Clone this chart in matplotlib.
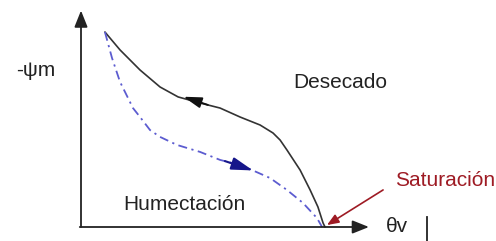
import matplotlib
matplotlib.use("Agg")
import matplotlib.pyplot as plt
from matplotlib.lines import Line2D

plt.rcParams['font.family'] = ['Liberation Sans', 'DejaVu Sans']

# drying curve (theta, -psi), normalised: saturation at theta=1
theta_dry = [0.098, 0.160, 0.242, 0.324, 0.398, 0.488, 0.570, 0.652, 0.734,
             0.787, 0.816, 0.844, 0.898, 0.939, 0.971, 0.992, 1.000]
psi_dry = [1.000, 0.908, 0.805, 0.718, 0.667, 0.636, 0.610, 0.564, 0.523,
           0.482, 0.446, 0.395, 0.292, 0.190, 0.103, 0.021, 0.000]

# wetting curve
theta_wet = [0.098, 0.127, 0.160, 0.213, 0.242, 0.283, 0.324, 0.393, 0.488,
             0.570, 0.652, 0.701, 0.775, 0.844, 0.910, 0.967, 0.988]
psi_wet = [1.000, 0.867, 0.744, 0.610, 0.564, 0.497, 0.462, 0.421, 0.385,
           0.344, 0.318, 0.292, 0.251, 0.190, 0.123, 0.046, 0.000]

# direction arrows (tail, head)
dry_arrow = [(0.520, 0.626), (0.420, 0.668)]
wet_arrow = [(0.590, 0.338), (0.705, 0.290)]

fig = plt.figure(figsize=(4.96, 2.41), dpi=100)
ax = fig.add_axes([0, 0, 1, 1])
ax.set_xlim(-81 / 244, 415 / 244)
ax.set_ylim(-14 / 195, 227 / 195)
ax.axis('off')

# axes with arrows
ax.annotate('', xy=(0, 1.110), xytext=(0, 0),
            arrowprops=dict(arrowstyle='-|>,head_length=1.0,head_width=0.4',
                            color='#222222', lw=1.3, shrinkA=0, shrinkB=0))
ax.annotate('', xy=(1.180, 0), xytext=(-0.005, 0),
            arrowprops=dict(arrowstyle='-|>,head_length=1.0,head_width=0.4',
                            color='#222222', lw=1.3, shrinkA=0, shrinkB=0))

ax.plot(theta_dry, psi_dry, color='#333333', lw=1.2, solid_capstyle='round',
        solid_joinstyle='round')
ax.plot(theta_wet, psi_wet, color='#5c5cd0', lw=1.3,
        linestyle=(0, (5, 2.5, 1.2, 2.5)))

ax.annotate('', xy=dry_arrow[1], xytext=dry_arrow[0],
            arrowprops=dict(arrowstyle='-|>,head_length=1.1,head_width=0.33',
                            color='#111111', lw=1.3, shrinkA=0, shrinkB=0))
ax.annotate('', xy=wet_arrow[1], xytext=wet_arrow[0],
            arrowprops=dict(arrowstyle='-|>,head_length=1.3,head_width=0.38',
                            color='#16168a', lw=1.5, shrinkA=0, shrinkB=0))

# saturation pointer
ax.annotate('', xy=(1.008, 0.010), xytext=(1.238, 0.190),
            arrowprops=dict(arrowstyle='-|>,head_length=0.7,head_width=0.28',
                            color='#9e1b24', lw=1.2, shrinkA=0, shrinkB=0))

fs = 15
fig.text(36 / 496, 1 - 70 / 241, '-ψm', fontsize=fs, ha='center', va='center',
         color='#222222')
fig.text(340 / 496, 1 - 82 / 241, 'Desecado', fontsize=fs, ha='center',
         va='center', color='#222222')
fig.text(184 / 496, 1 - 205 / 241, 'Humectación', fontsize=fs, ha='center',
         va='center', color='#222222')
fig.text(445 / 496, 1 - 180 / 241, 'Saturación', fontsize=fs, ha='center',
         va='center', color='#9e1b24')
fig.text(397 / 496, 1 - 226 / 241, 'θv', fontsize=fs, ha='center',
         va='center', color='#222222')

# cursor-like bar at the right
fig.add_artist(Line2D([427 / 496, 427 / 496], [0, 1 - 217 / 241],
                      color='#222222', lw=1.3))

fig.savefig('out.png', dpi=100)
